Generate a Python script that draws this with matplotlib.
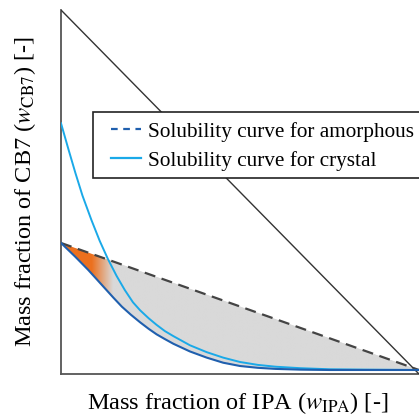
import numpy as np
import matplotlib
matplotlib.use("Agg")
import matplotlib.pyplot as plt
from matplotlib.lines import Line2D
from matplotlib.patches import Polygon, Rectangle

plt.rcParams['font.family'] = ['Liberation Serif', 'DejaVu Serif']
plt.rcParams['mathtext.fontset'] = 'stix'

# Data
x_amorph = [0.0, 0.04, 0.076, 0.1, 0.123, 0.147, 0.17, 0.195, 0.221, 0.245, 0.267, 0.29, 0.314,
            0.36, 0.407, 0.453, 0.5, 0.55, 0.6, 0.668, 0.75, 0.85, 1.0]
y_amorph = [0.36, 0.322, 0.286, 0.26, 0.235, 0.209, 0.185, 0.163, 0.142, 0.124, 0.109, 0.096, 0.083,
            0.062, 0.045, 0.031, 0.022, 0.017, 0.014, 0.012, 0.011, 0.011, 0.011]

x_cryst = [0.0, 0.02, 0.04, 0.06, 0.085, 0.108, 0.131, 0.155, 0.178, 0.201, 0.221, 0.245, 0.267,
           0.29, 0.314, 0.36, 0.407, 0.453, 0.5, 0.55, 0.6, 0.668, 0.75, 0.85, 1.0]
y_cryst = [0.689, 0.62, 0.553, 0.49, 0.423, 0.366, 0.316, 0.27, 0.231, 0.197, 0.175, 0.153, 0.135,
           0.118, 0.104, 0.079, 0.06, 0.045, 0.033, 0.025, 0.02, 0.016, 0.013, 0.012, 0.011]

x_tie = [0.0, 1.0]
y_tie = [0.36, 0.011]

x_diag = [0.0, 1.0]
y_diag = [1.0, 0.0]

labels = ["Solubility curve for amorphous", "Solubility curve for crystal"]

c_dark = '#1f5fae'
c_light = '#1aa9e8'
c_orange = np.array([236, 112, 30]) / 255.0
c_grey = np.array([217, 217, 217]) / 255.0

fig = plt.figure(figsize=(4.19, 4.18), dpi=100)
ax = fig.add_axes([61/419, (418-374)/418, 358/419, 364/418])
ax.set_xlim(0, 1)
ax.set_ylim(0, 1)

# grey region between tie line and amorphous curve
xs = np.array(x_amorph)
ys_tie = np.interp(xs, x_tie, y_tie)
ax.fill_between(xs, y_amorph, ys_tie, color=c_grey, lw=0, zorder=1)

# orange gradient clipped to region
poly_pts = list(zip(xs, ys_tie)) + list(zip(xs[::-1], np.array(y_amorph)[::-1]))
poly = Polygon(poly_pts, closed=True, facecolor='none', edgecolor='none', transform=ax.transData)
ax.add_patch(poly)
gx = np.linspace(0, 1, 600)
t = np.clip((gx - 0.085) / (0.145 - 0.085), 0, 1)
cols = (1 - t)[:, None] * c_orange[None, :] + t[:, None] * c_grey[None, :]
img = np.tile(cols[None, :, :], (2, 1, 1))
im = ax.imshow(img, extent=[0, 1, 0, 1], aspect='auto', origin='lower', zorder=2, interpolation='bilinear')
im.set_clip_path(poly)

ax.plot(x_diag, y_diag, color='#333333', lw=1.0, zorder=3)
ax.plot(x_tie, y_tie, color='#444444', lw=1.6, ls=(0, (5, 3)), zorder=4)
ax.plot(x_cryst, y_cryst, color=c_light, lw=1.4, zorder=5)
ax.plot(x_amorph, y_amorph, color=c_dark, lw=1.5, zorder=5)

for s in ['top', 'right']:
    ax.spines[s].set_visible(False)
for s in ['left', 'bottom']:
    ax.spines[s].set_color('#555555')
    ax.spines[s].set_linewidth(1.3)
ax.set_xticks([])
ax.set_yticks([])

# legend frame
fig.patches.append(Rectangle((92.5/419, 1 - 178/418), (421 - 92.5)/419, (178 - 112)/418,
                             transform=fig.transFigure, facecolor='white', edgecolor='#222222',
                             lw=1.2, zorder=5))

handles = [Line2D([], [], color=c_dark, lw=1.6, ls=(0, (3, 2.5))),
           Line2D([], [], color=c_light, lw=1.6)]
leg = fig.legend(handles, labels, loc='upper left', bbox_to_anchor=(111/419, 1 - 122/418),
                 fontsize=15.3, frameon=False, handlelength=1.42,
                 borderpad=0, labelspacing=0.42, handletextpad=0.3, borderaxespad=0)
leg.set_zorder(6)

fig.text(25/419, 1 - 192/418, r"Mass fraction of CB7 ($w_{\mathrm{CB7}}$) [-]", rotation=90,
         ha='center', va='center', fontsize=17.5)
fig.text(238/419, 1 - 403/418, r"Mass fraction of IPA ($w_{\mathrm{IPA}}$) [-]",
         ha='center', va='center', fontsize=17.5)

fig.savefig('out.png', dpi=100)
